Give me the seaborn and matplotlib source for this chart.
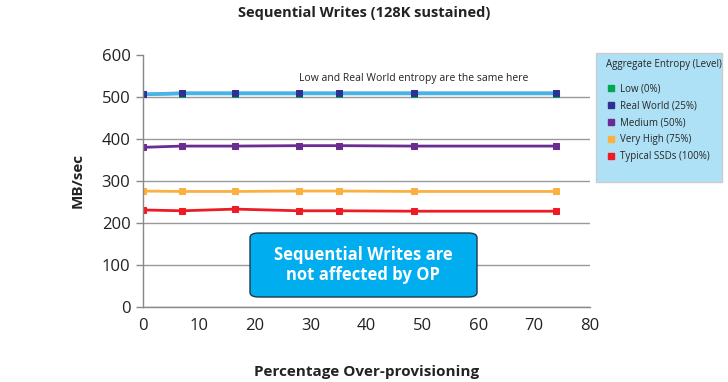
import numpy as np
import pandas as pd
import seaborn as sns
import matplotlib.pyplot as plt
from matplotlib.lines import Line2D
from matplotlib.patches import FancyBboxPatch, Rectangle

# over-provisioning percentages
op_pct = [0, 7, 16.5, 28, 35, 48.5, 74]

# MB/sec per entropy level
low = [506, 508, 508, 508, 508, 508, 508]
real_world = [506, 509, 509, 509, 509, 509, 509]
medium = [380, 383, 383, 384, 384, 383, 383]
very_high = [276, 275, 275, 276, 276, 275, 275]
typical = [231, 229, 233, 229, 229, 228, 228]

series_names = ["Low (0%)", "Real World (25%)", "Medium (50%)",
                "Very High (75%)", "Typical SSDs (100%)"]
series_vals = [low, real_world, medium, very_high, typical]
marker_cols = ["#00a651", "#2e3192", "#6a2c91", "#fbb040", "#ed1c24"]
line_cols = ["#4ab3e6", "#4ab3e6", "#6a2c91", "#fbb040", "#ed1c24"]

sns.set_style("white")
plt.rcParams['font.family'] = ['Open Sans', 'DejaVu Sans']

fig = plt.figure(figsize=(7.28, 3.82), dpi=100)
ax = fig.add_axes([0.1964, 0.1963, 0.614, 0.66])

for name, vals, mc, lc in zip(series_names, series_vals, marker_cols, line_cols):
    df = pd.DataFrame({"op": op_pct, "mbs": vals})
    sns.lineplot(data=df, x="op", y="mbs", ax=ax, color=lc, lw=2.5 if lc == "#4ab3e6" else 2,
                 marker="s", markersize=5, markerfacecolor=mc, markeredgecolor=mc,
                 legend=False)

ax.set_xlim(0, 80)
ax.set_ylim(0, 600)
ax.set_xticks(range(0, 81, 10))
ax.set_yticks(range(0, 601, 100))
ax.tick_params(axis="both", labelsize=12, colors="#222222")
ax.tick_params(axis="y", length=5, width=1, color="#888888", left=True, pad=4)
ax.tick_params(axis="x", length=0, pad=8)
ax.yaxis.grid(True, color="#999999", lw=1)
ax.set_axisbelow(True)
ax.get_ygridlines()[-1].set_visible(False)
for s in ["top", "right"]:
    ax.spines[s].set_visible(False)
for s in ["left", "bottom"]:
    ax.spines[s].set_color("#888888")
    ax.spines[s].set_linewidth(1)

ax.set_xlabel("Percentage Over-provisioning", fontsize=11, fontweight="bold",
              color="#222222", labelpad=22)
ax.set_ylabel("MB/sec", fontsize=11, fontweight="bold", color="#222222", labelpad=12)
fig.suptitle("Sequential Writes (128K sustained)", x=0.5, y=0.985,
             fontsize=10.5, fontweight="bold", color="#222222")

ax.text(28, 545, "Low and Real World entropy are the same here", fontsize=7.5,
        color="#222222", ha="left", va="center")

# callout box
box = FancyBboxPatch((250 / 728, 1 - 297 / 382), 227 / 728, 64 / 382,
                     boxstyle="round,pad=0,rounding_size=0.012",
                     transform=fig.transFigure, facecolor="#00aeef",
                     edgecolor="#1a3a4a", lw=1, zorder=5)
fig.patches.append(box)
fig.text(363 / 728, 1 - 265 / 382, "Sequential Writes are\nnot affected by OP",
         ha="center", va="center", color="white", fontsize=12, fontweight="bold",
         linespacing=1.2, zorder=6)

# legend panel
panel = Rectangle((596 / 728, 1 - 182 / 382), 126 / 728, 129 / 382,
                  transform=fig.transFigure, facecolor="#aee1f5",
                  edgecolor="#cccccc", lw=1)
fig.patches.append(panel)
handles = [Line2D([], [], ls="none", marker="s", markersize=5,
                  markerfacecolor=c, markeredgecolor=c) for c in marker_cols]
leg = fig.legend(handles, series_names, title="Aggregate Entropy (Level)",
                 loc="upper left", bbox_to_anchor=(598 / 728, 1 - 51 / 382),
                 fontsize=7, title_fontsize=7, frameon=False,
                 handlelength=1, handletextpad=0.5, labelspacing=0.6,
                 borderpad=0.3)
leg._legend_box.align = "left"
leg._legend_box.sep = 10

fig.savefig("out.png", dpi=100)
